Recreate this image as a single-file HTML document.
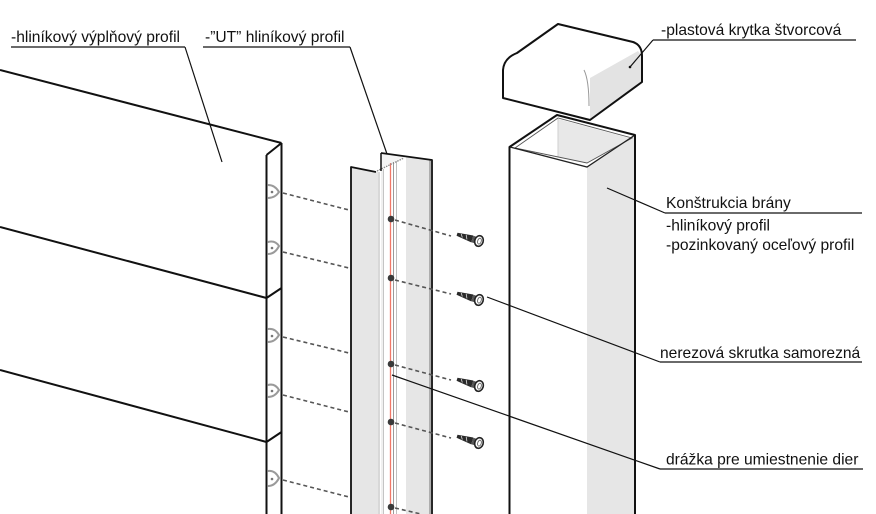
<!DOCTYPE html>
<html>
<head>
<meta charset="utf-8">
<style>
  html,body{margin:0;padding:0;background:#fff;}
  svg{display:block;}
  text{font-family:"Liberation Sans",Arial,sans-serif;font-size:15.6px;fill:#111;}
</style>
</head>
<body>
<svg width="876" height="514" viewBox="0 0 876 514" xmlns="http://www.w3.org/2000/svg">
  <rect width="876" height="514" fill="#fff"/>

  <!-- ===== Filler panels ===== -->
  <g stroke="#111" stroke-width="2" fill="none" stroke-linejoin="round">
    <line x1="0" y1="70" x2="281.5" y2="143"/>
    <polyline points="0,227 266.5,298 281.5,288"/>
    <polyline points="0,370 266.5,442 281.5,432"/>
    <line x1="266.5" y1="155" x2="281.5" y2="143"/>
    <line x1="266.5" y1="155" x2="266.5" y2="514"/>
    <line x1="281.5" y1="143" x2="281.5" y2="514"/>
  </g>

  <!-- brackets on panel ends -->
  <g stroke="#9a9a9a" stroke-width="2" fill="none" stroke-linecap="round">
    <path d="M268,185 Q275,185 279,192 Q275,198 268,198"/>
    <path d="M268,242 Q275,240 279,246 Q275,254 268,254"/>
    <path d="M268,329 Q275,328 279,335 Q275,342 268,342"/>
    <path d="M268,385 Q275,383 279,390 Q275,397 268,397"/>
    <path d="M268,471 Q275,470 279,478 Q275,486 268,486"/>
  </g>
  <g fill="#777">
    <circle cx="272" cy="192" r="1.3"/>
    <circle cx="272" cy="248" r="1.3"/>
    <circle cx="272" cy="336" r="1.3"/>
    <circle cx="272" cy="391" r="1.3"/>
    <circle cx="272" cy="479" r="1.3"/>
  </g>

  <!-- dashed lines panel -> UT profile -->
  <g stroke="#555" stroke-width="1.6" stroke-dasharray="4,3" fill="none">
    <line x1="283" y1="193" x2="349" y2="210"/>
    <line x1="283" y1="252" x2="349" y2="268"/>
    <line x1="283" y1="337" x2="349" y2="353"/>
    <line x1="283" y1="395" x2="349" y2="412"/>
    <line x1="283" y1="480" x2="349" y2="497"/>
  </g>

  <!-- ===== UT profile ===== -->
  <polygon points="351,168 378,172 378,514 351,514" fill="#e6e6e6"/>
  <polygon points="381,158 383,158 383,514 381,514" fill="#f0f0f0"/>
  <polygon points="406,156.5 431,160 431,514 406,514" fill="#e6e6e6"/>
  <polygon points="381,153 406,156.5 404,158 381,168" fill="#f4f4f4"/>
  <g fill="none">
    <line x1="379" y1="172" x2="379" y2="514" stroke="#b0b0b0" stroke-width="1"/>
    <line x1="383.5" y1="169" x2="383.5" y2="514" stroke="#c4c4c4" stroke-width="1"/>
    <line x1="390.5" y1="163" x2="390.5" y2="514" stroke="#f07868" stroke-width="1.3"/>
    <line x1="393.5" y1="162" x2="393.5" y2="514" stroke="#9a9a9a" stroke-width="1"/>
    <line x1="396.5" y1="161" x2="396.5" y2="514" stroke="#c0c0c0" stroke-width="1"/>
    <line x1="430" y1="160" x2="430" y2="514" stroke="#8a8a8a" stroke-width="1.2"/>
    <line x1="377" y1="171" x2="404" y2="158" stroke="#888" stroke-width="1.3" stroke-dasharray="1.5,1"/>
  </g>
  <g stroke="#111" stroke-width="1.8" fill="none" stroke-linejoin="round">
    <polyline points="351,514 351,167 376,172"/>
    <line x1="381" y1="153" x2="381" y2="171" stroke-width="1.5"/>
    <polyline points="381,153 432,160 432,514"/>
  </g>

  <!-- holes -->
  <g fill="#3a3a3a">
    <circle cx="391" cy="219" r="3.3"/>
    <circle cx="391" cy="278" r="3.3"/>
    <circle cx="391" cy="364" r="3.3"/>
    <circle cx="391" cy="422" r="3.3"/>
    <circle cx="391" cy="507" r="3.3"/>
  </g>

  <!-- dashed lines holes -> screws -->
  <g stroke="#555" stroke-width="1.6" stroke-dasharray="4,3" fill="none">
    <line x1="395" y1="220" x2="451" y2="236"/>
    <line x1="395" y1="280" x2="451" y2="294"/>
    <line x1="395" y1="365" x2="451" y2="380"/>
    <line x1="395" y1="423" x2="451" y2="438"/>
    <line x1="395" y1="508" x2="421" y2="514"/>
  </g>

  <!-- ===== Post ===== -->
  <polygon points="587,167 635,135 635,514 587,514" fill="#e6e6e6"/>
  <polygon points="515,148 558,118 632,138 587,163" fill="#fff"/>
  <polygon points="558,119 631,138.5 587,162.5 558,157" fill="#e8e8e8"/>
  <line x1="558" y1="119" x2="558" y2="157" stroke="#cfcfcf" stroke-width="1"/>
  <polygon points="515,148 558,118 632,138 587,163" fill="none" stroke="#555" stroke-width="0.9"/>
  <polyline points="510,147 587,167 635,135" fill="none" stroke="#222" stroke-width="1.3"/>
  <polyline points="509.5,514 509.5,147 557,115 635,135 635,514" fill="none" stroke="#111" stroke-width="2" stroke-linejoin="round"/>

  <!-- ===== Cap ===== -->
  <path d="M558,24 L633,42 Q642,45 642,56 L642,82 L590,120 L503,98 L503,70 Q504,58 517,53 Z" fill="#fff"/>
  <polygon points="590,78 638,51 642,56 642,82 590,120" fill="#e3e3e3"/>
  <path d="M584,70 Q589,80 589,106" fill="none" stroke="#999" stroke-width="1"/>
  <path d="M558,24 L633,42 Q642,45 642,56 L642,82 L590,120 L503,98 L503,70 Q504,58 517,53 Z" fill="none" stroke="#111" stroke-width="2" stroke-linejoin="round"/>

  <!-- ===== Screws ===== -->
  <defs>
    <g id="screw">
      <path d="M-23,-1.6 L-7,-3.6 L-7,3.6 L-23,1.6 Z" fill="#2a2a2a"/>
      <line x1="-19" y1="-1.5" x2="-17" y2="1.5" stroke="#ddd" stroke-width="0.8"/>
      <line x1="-14" y1="-2" x2="-12" y2="2" stroke="#ddd" stroke-width="0.8"/>
      <rect x="-7" y="-3.4" width="3" height="6.8" fill="#555"/>
      <ellipse cx="0" cy="0" rx="4.2" ry="5.4" fill="#fff" stroke="#222" stroke-width="1.6"/>
      <ellipse cx="0.5" cy="0" rx="1.8" ry="3" fill="none" stroke="#666" stroke-width="0.9"/>
    </g>
  </defs>
  <use href="#screw" transform="translate(479,241) rotate(17)"/>
  <use href="#screw" transform="translate(479,300) rotate(17)"/>
  <use href="#screw" transform="translate(479,386) rotate(17)"/>
  <use href="#screw" transform="translate(479,443) rotate(17)"/>

  <!-- ===== Leaders & underlines ===== -->
  <g stroke="#111" stroke-width="1.2" fill="none">
    <line x1="11" y1="47" x2="185" y2="47"/>
    <line x1="185" y1="47" x2="222" y2="162"/>
    <line x1="203" y1="47" x2="350" y2="47"/>
    <line x1="350" y1="47" x2="387" y2="154"/>
    <line x1="653" y1="40" x2="856" y2="40"/>
    <line x1="653" y1="40" x2="630" y2="67"/>
    <line x1="665" y1="213" x2="862" y2="213"/>
    <line x1="665" y1="213" x2="607" y2="188"/>
    <line x1="660" y1="362" x2="862" y2="362"/>
    <line x1="660" y1="362" x2="487" y2="297"/>
    <line x1="660" y1="469" x2="863" y2="469"/>
    <line x1="660" y1="469" x2="392" y2="375"/>
  </g>
  <circle cx="630" cy="67" r="1.3" fill="#111"/>

  <!-- ===== Labels ===== -->
  <text x="11" y="42">-hliníkový výplňový profil</text>
  <text x="205" y="42">-”UT” hliníkový profil</text>
  <text x="661" y="35">-plastová krytka štvorcová</text>
  <text x="666" y="208">Konštrukcia brány</text>
  <text x="666" y="230.5">-hliníkový profil</text>
  <text x="666" y="250">-pozinkovaný oceľový profil</text>
  <text x="660" y="358">nerezová skrutka samorezná</text>
  <text x="666" y="464.5">drážka pre umiestnenie dier</text>
</svg>
</body>
</html>
